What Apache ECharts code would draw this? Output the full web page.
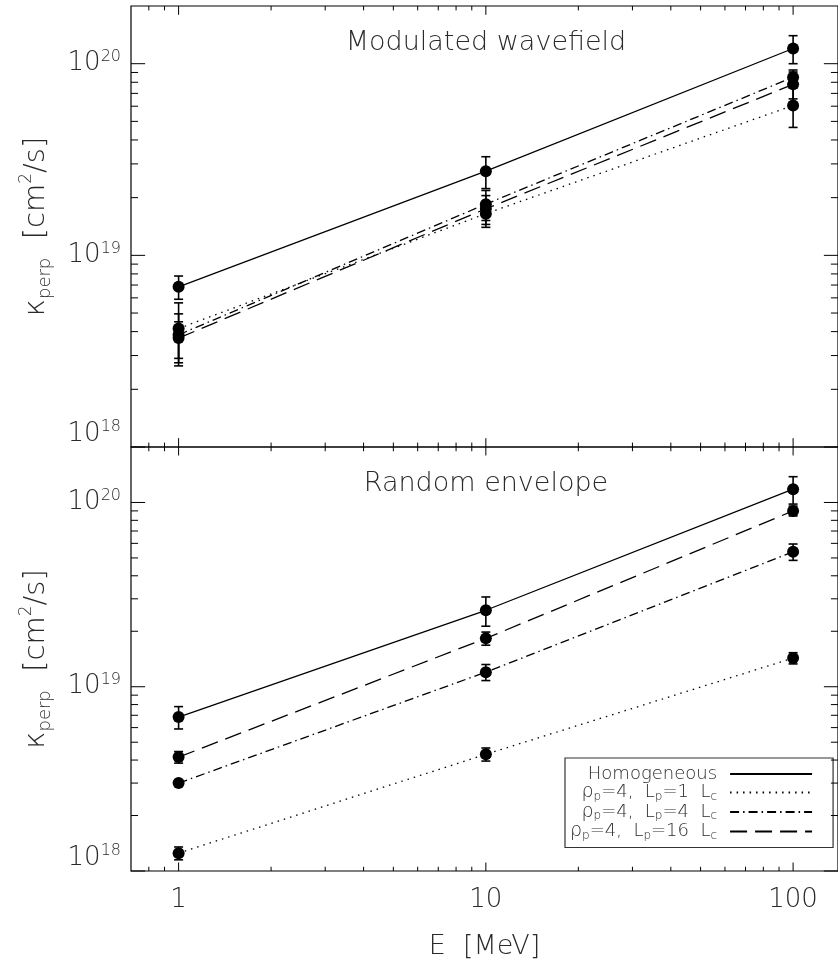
<!DOCTYPE html>
<html><head><meta charset="utf-8">
<script src="https://cdn.jsdelivr.net/npm/echarts@6/dist/echarts.min.js"></script>
<style>html,body{margin:0;padding:0;background:#fff}#c{width:838px;height:975px}</style>
</head><body><div id="c"></div>
<script>
// ---------------- data ----------------
const energies = [1, 10, 100];
const seriesNames = ['Homogeneous', 'ρp=4, Lp=1 Lc', 'ρp=4, Lp=4 Lc', 'ρp=4, Lp=16 Lc'];
const legendRich = ['{t|Homogeneous}{g|}',
  '{r|ρ}{sub|p}{t|=4,  L}{sub|p}{t|=1  L}{sub|c}{g|}',
  '{r|ρ}{sub|p}{t|=4,  L}{sub|p}{t|=4  L}{sub|c}{g|}',
  '{r|ρ}{sub|p}{t|=4,  L}{sub|p}{t|=16  L}{sub|c}{g|}'];
const panelTitles = ['Modulated wavefield', 'Random envelope'];

// Modulated wavefield (top panel)
const modHomogeneous = [6.85e18, 2.75e19, 1.20e20];
const modHomogeneousErr = [0.95e18, 0.52e19, 0.20e20];
const modL1 = [4.15e18, 1.65e19, 6.05e19];
const modL1Err = [1.5e18, 0.25e19, 1.4e19];
const modL4 = [3.85e18, 1.85e19, 8.5e19];
const modL4Err = [1.1e18, 0.33e19, 0.77e19];
const modL16 = [3.7e18, 1.75e19, 7.8e19];
const modL16Err = [0.8e18, 0.3e19, 1.25e19];

// Random envelope (bottom panel)
const envHomogeneous = [6.85e18, 2.6e19, 1.18e20];
const envHomogeneousErr = [0.95e18, 0.47e19, 0.2e20];
const envL1 = [1.25e18, 4.3e18, 1.43e19];
const envL1Err = [0.1e18, 0.35e18, 0.1e19];
const envL4 = [3.0e18, 1.2e19, 5.4e19];
const envL4Err = [0.1e18, 0.12e19, 0.55e19];
const envL16 = [4.15e18, 1.83e19, 9.0e19];
const envL16Err = [0.3e18, 0.15e19, 0.55e19];

// axis ranges & ticks
const xRange = [0.7, 140];
const yRange = [1e18, 2e20];
const xMajorTicks = [1, 10, 100];
const xMinorTicks = [0.8, 0.9, 2, 3, 4, 5, 6, 7, 8, 9, 20, 30, 40, 50, 60, 70, 80, 90];
const yMajorTicks = [1e18, 1e19, 1e20];
const yMinorTicks = [2e18, 3e18, 4e18, 5e18, 6e18, 7e18, 8e18, 9e18,
                     2e19, 3e19, 4e19, 5e19, 6e19, 7e19, 8e19, 9e19];

// ---------------- chart ----------------
const FONT = 'DejaVu Sans';
const FW = 200;
const TXT = '#2a2a2a';
const dashPatterns = ['solid', [1.5, 5], [9, 4, 1.5, 4], [17, 8]];
const panels = [
  {vals: [modHomogeneous, modL1, modL4, modL16], errs: [modHomogeneousErr, modL1Err, modL4Err, modL16Err]},
  {vals: [envHomogeneous, envL1, envL4, envL16], errs: [envHomogeneousErr, envL1Err, envL4Err, envL16Err]}
];
const grids = [
  {left: 131, top: 6, width: 710, height: 441},
  {left: 131, top: 447, width: 710, height: 424}
];

const series = [];
panels.forEach((p, gi) => {
  // error bars
  p.vals.forEach((vals, si) => {
    const errData = energies.map((e, k) => [e, vals[k] - p.errs[si][k], vals[k] + p.errs[si][k]]);
    series.push({
      type: 'custom', xAxisIndex: gi, yAxisIndex: gi, z: 3, silent: true,
      data: errData,
      encode: {x: 0, y: [1, 2]},
      renderItem: (params, api) => {
        const lo = api.coord([api.value(0), api.value(1)]);
        const hi = api.coord([api.value(0), api.value(2)]);
        const w = 4.5;
        const st = {stroke: '#000', lineWidth: 1.6};
        return {type: 'group', children: [
          {type: 'line', shape: {x1: lo[0], y1: lo[1], x2: hi[0], y2: hi[1]}, style: st},
          {type: 'line', shape: {x1: lo[0] - w, y1: lo[1], x2: lo[0] + w, y2: lo[1]}, style: st},
          {type: 'line', shape: {x1: hi[0] - w, y1: hi[1], x2: hi[0] + w, y2: hi[1]}, style: st}
        ]};
      }
    });
  });
  // lines + markers
  p.vals.forEach((vals, si) => {
    series.push({
      type: 'line', name: seriesNames[si], xAxisIndex: gi, yAxisIndex: gi, z: 4,
      data: energies.map((e, k) => [e, vals[k]]),
      symbol: 'circle', symbolSize: 12, showSymbol: true,
      itemStyle: {color: '#000'},
      lineStyle: {color: '#000', width: 1.3, type: dashPatterns[si], cap: 'butt'},
      emphasis: {disabled: true}, animation: false
    });
  });
  // tick marks (IDL style, all four sides)
  const tickData = [];
  xMajorTicks.forEach(v => tickData.push([v, yRange[0], 0]));
  xMinorTicks.forEach(v => tickData.push([v, yRange[0], 1]));
  yMajorTicks.forEach(v => tickData.push([xRange[0], v, 2]));
  yMinorTicks.forEach(v => tickData.push([xRange[0], v, 3]));
  series.push({
    type: 'custom', xAxisIndex: gi, yAxisIndex: gi, z: 5, silent: true,
    data: tickData, encode: {x: 0, y: 1},
    renderItem: (params, api) => {
      const cs = params.coordSys;
      const kind = api.value(2);
      const st = {stroke: '#000', lineWidth: 1};
      if (kind < 2) {
        const px = api.coord([api.value(0), yRange[0]])[0];
        const len = (kind === 0 ? 0.02 : 0.01) * cs.height;
        return {type: 'group', children: [
          {type: 'line', shape: {x1: px, y1: cs.y + cs.height, x2: px, y2: cs.y + cs.height - len}, style: st},
          {type: 'line', shape: {x1: px, y1: cs.y, x2: px, y2: cs.y + len}, style: st}
        ]};
      }
      const py = api.coord([xRange[0], api.value(1)])[1];
      const len = (kind === 2 ? 0.02 : 0.01) * cs.width;
      return {type: 'group', children: [
        {type: 'line', shape: {x1: cs.x, y1: py, x2: cs.x + len, y2: py}, style: st},
        {type: 'line', shape: {x1: cs.x + cs.width, y1: py, x2: cs.x + cs.width - len, y2: py}, style: st}
      ]};
    }
  });
});

const yName = '{k|κ}{sub|perp}{t|  [cm}{sup|2}{t|/s]}';
const nameRich = {
  k: {fontFamily: FONT, fontWeight: FW, fontSize: 29, color: TXT, lineHeight: 36, verticalAlign: 'middle'},
  t: {fontFamily: FONT, fontWeight: FW, fontSize: 29, color: TXT, lineHeight: 36, verticalAlign: 'middle'},
  sub: {fontFamily: FONT, fontWeight: FW, fontSize: 18, color: TXT, lineHeight: 16, verticalAlign: 'bottom'},
  sup: {fontFamily: FONT, fontWeight: FW, fontSize: 17, color: TXT, lineHeight: 16, verticalAlign: 'top'}
};
const labelRich = {
  b: {fontFamily: FONT, fontWeight: FW, fontSize: 26, color: TXT, lineHeight: 30, verticalAlign: 'middle'},
  s: {fontFamily: FONT, fontWeight: FW, fontSize: 16, color: TXT, lineHeight: 15, verticalAlign: 'top'},
  e: {lineHeight: 26}
};

const xAxes = grids.map((g, gi) => ({
  type: 'log', logBase: 10, gridIndex: gi, min: xRange[0], max: xRange[1],
  axisLine: {show: false}, axisTick: {show: false}, splitLine: {show: false},
  axisLabel: {show: gi === 1, showMinLabel: false, showMaxLabel: false, margin: 16,
    fontFamily: FONT, fontWeight: FW, fontSize: 26, color: TXT,
    formatter: v => String(Math.round(v))},
  name: gi === 1 ? 'E  [MeV]' : '', nameLocation: 'middle', nameGap: 62,
  nameTextStyle: {fontFamily: FONT, fontWeight: FW, fontSize: 27, color: TXT}
}));
const yAxes = grids.map((g, gi) => ({
  type: 'log', logBase: 10, gridIndex: gi, min: yRange[0], max: yRange[1],
  axisLine: {show: false}, axisTick: {show: false}, splitLine: {show: false},
  axisLabel: {showMaxLabel: false, margin: 10,
    formatter: v => {
      const e = Math.round(Math.log10(v));
      return '{b|10}{s|' + e + '}' + (v <= yRange[0] * 1.001 ? '\n{e|}' : '');
    },
    rich: labelRich},
  name: yName, nameLocation: 'middle', nameRotate: 90, nameGap: 77,
  nameTextStyle: {rich: nameRich}
}));

const legendRichStyles = {
  t: {fontFamily: FONT, fontWeight: FW, fontSize: 18, color: TXT, lineHeight: 20, verticalAlign: 'middle'},
  r: {fontFamily: FONT, fontWeight: FW, fontSize: 19, color: TXT, lineHeight: 20, verticalAlign: 'middle'},
  sub: {fontFamily: FONT, fontWeight: FW, fontSize: 12, color: TXT, lineHeight: 11, verticalAlign: 'bottom'},
  g: {width: 8}
};

const chart = echarts.init(document.getElementById('c'), null, {renderer: 'canvas'});
chart.setOption({
  animation: false,
  backgroundColor: '#fff',
  grid: grids.map(g => Object.assign({show: true, borderColor: '#000', borderWidth: 1.2, backgroundColor: 'transparent'}, g)),
  xAxis: xAxes,
  yAxis: yAxes,
  legend: {
    data: seriesNames, orient: 'vertical', align: 'right',
    left: 565, top: 758, itemGap: 0, itemWidth: 82, itemHeight: 14,
    padding: [7, 20, 6, 5], borderColor: '#333', borderWidth: 1.2,
    selectedMode: false, inactiveColor: '#000',
    itemStyle: {opacity: 0},
    formatter: name => legendRich[seriesNames.indexOf(name)],
    textStyle: {fontFamily: FONT, fontWeight: FW, fontSize: 18, color: TXT, rich: legendRichStyles}
  },
  graphic: panelTitles.map((t, i) => ({
    type: 'text', x: grids[i].left + 355, y: grids[i].top + 37,
    style: {text: t, fontFamily: FONT, fontWeight: FW, fontSize: 27, fill: TXT, align: 'center', verticalAlign: 'middle'}
  })),
  series: series
});
</script></body></html>
